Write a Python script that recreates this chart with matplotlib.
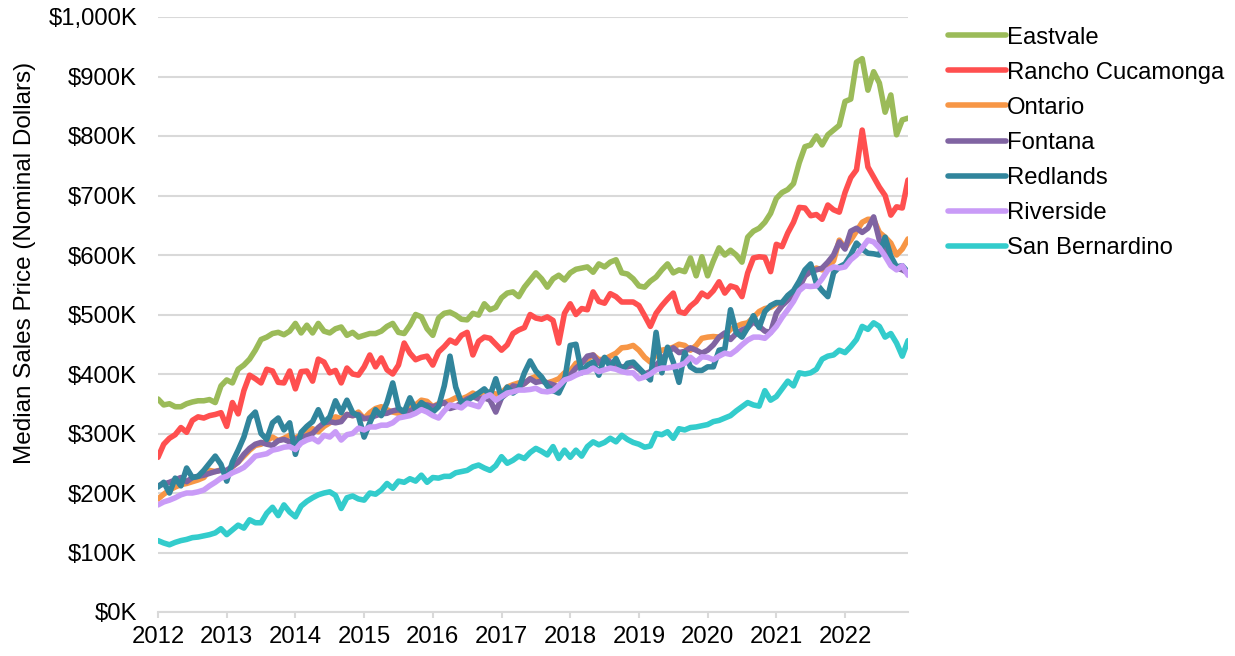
"""
Median sales price by city, Inland Empire, monthly 2012-2022.

Saves a line chart to out.png.
"""

import matplotlib

matplotlib.use("Agg")  # Non-interactive backend for PNG export.
import matplotlib.pyplot as plt
import numpy as np
from matplotlib.ticker import FuncFormatter

# Monthly median sales price, $K, Jan 2012 .. Dec 2022 (one row per year).
eastvale = [
    358, 348, 350, 345, 345, 350, 353, 355, 355, 357, 352, 380,
    390, 385, 408, 415, 425, 440, 458, 462, 468, 470, 466, 472,
    485, 469, 482, 469, 485, 472, 469, 476, 479, 465, 470, 462,
    465, 468, 468, 472, 480, 485, 470, 468, 482, 500, 496, 476,
    465, 494, 502, 504, 499, 492, 491, 502, 499, 518, 508, 512,
    528, 536, 538, 530, 546, 558, 570, 560, 546, 560, 566, 558,
    570, 576, 578, 580, 571, 585, 580, 588, 592, 570, 568, 560,
    548, 546, 556, 563, 575, 585, 570, 575, 572, 595, 565, 597,
    565, 590, 612, 600, 608, 600, 588, 630, 640, 645, 655, 670,
    695, 705, 710, 720, 755, 782, 785, 800, 785, 802, 810, 818,
    858, 862, 924, 930, 877, 908, 889, 840, 869, 802, 827, 830,
]
rancho_cucamonga = [
    260, 282, 292, 298, 310, 302, 322, 328, 326, 330, 332, 335,
    312, 352, 333, 372, 398, 392, 385, 408, 405, 386, 385, 405,
    375, 404, 405, 388, 425, 420, 402, 406, 385, 410, 400, 398,
    412, 432, 412, 427, 407, 400, 415, 452, 435, 424, 428, 430,
    415, 437, 446, 457, 452, 465, 470, 432, 455, 462, 460, 450,
    440, 449, 468, 474, 478, 500, 494, 492, 496, 490, 452, 502,
    518, 500, 510, 508, 538, 522, 519, 535, 530, 521, 521, 521,
    515, 498, 480, 502, 515, 526, 536, 505, 502, 514, 522, 536,
    530, 540, 555, 536, 548, 545, 530, 570, 595, 597, 596, 572,
    618, 614, 637, 655, 680, 679, 666, 668, 660, 684, 676, 672,
    705, 730, 743, 810, 748, 731, 714, 700, 667, 681, 679, 726,
]
ontario = [
    190, 198, 205, 210, 214, 216, 219, 222, 226, 238, 236, 239,
    235, 244, 252, 262, 272, 280, 282, 288, 294, 288, 292, 297,
    292, 298, 305, 308, 303, 312, 318, 328, 325, 332, 330, 336,
    325, 335, 342, 345, 340, 336, 334, 338, 345, 348, 356, 354,
    345, 350, 352, 355, 360, 358, 362, 368, 362, 368, 370, 366,
    368, 378, 382, 385, 384, 392, 396, 390, 385, 388, 392, 402,
    405, 418, 420, 425, 432, 424, 425, 430, 435, 444, 445, 448,
    440, 428, 420, 432, 440, 442, 445, 450, 448, 440, 448, 460,
    462, 463, 462, 465, 475, 480, 484, 486, 495, 505, 510, 512,
    518, 520, 530, 535, 548, 565, 574, 578, 575, 580, 590, 625,
    612, 625, 640, 655, 660, 660, 638, 630, 620, 600, 610, 627,
]
fontana = [
    212, 215, 218, 222, 226, 219, 226, 228, 230, 233, 236, 238,
    238, 245, 252, 265, 275, 282, 285, 282, 280, 288, 290, 286,
    290, 294, 296, 300, 310, 318, 320, 318, 320, 332, 330, 332,
    325, 326, 330, 333, 334, 338, 340, 336, 338, 343, 347, 348,
    345, 348, 352, 342, 345, 352, 358, 362, 358, 360, 356, 336,
    360, 368, 380, 378, 384, 392, 386, 388, 385, 382, 378, 392,
    398, 410, 418, 430, 432, 418, 427, 420, 415, 412, 412, 415,
    408, 400, 404, 415, 425, 436, 444, 436, 438, 444, 440, 435,
    440, 449, 462, 469, 458, 468, 474, 478, 488, 480, 472, 470,
    502, 515, 524, 530, 545, 565, 572, 575, 578, 588, 600, 622,
    610, 640, 645, 638, 645, 664, 625, 610, 595, 578, 575, 570,
]
redlands = [
    210, 218, 200, 225, 212, 242, 226, 228, 238, 250, 262, 248,
    220, 252, 272, 294, 326, 336, 300, 290, 318, 326, 306, 318,
    265, 302, 312, 320, 340, 318, 328, 355, 335, 356, 335, 330,
    294, 318, 340, 330, 352, 385, 343, 336, 360, 340, 352, 345,
    336, 345, 380, 430, 378, 352, 355, 362, 368, 375, 364, 392,
    360, 378, 368, 375, 402, 422, 405, 395, 380, 372, 368, 388,
    448, 450, 402, 415, 420, 398, 428, 412, 426, 405, 418, 420,
    410, 400, 390, 470, 402, 445, 420, 386, 436, 412, 406, 406,
    412, 412, 440, 442, 508, 470, 462, 478, 498, 478, 505, 515,
    520, 520, 532, 540, 556, 575, 585, 552, 540, 530, 570, 580,
    585, 600, 620, 610, 603, 602, 600, 630, 598, 580, 582, 571,
]
riverside = [
    180, 185, 188, 192, 197, 200, 200, 202, 205, 212, 218, 225,
    228, 234, 238, 243, 252, 262, 264, 266, 272, 274, 277, 278,
    273, 284, 289, 292, 286, 297, 294, 303, 289, 298, 300, 309,
    306, 311, 311, 314, 314, 318, 326, 328, 330, 334, 340, 336,
    330, 326, 338, 348, 346, 343, 351, 348, 345, 361, 365, 356,
    362, 368, 370, 373, 373, 374, 376, 371, 370, 372, 380, 390,
    393, 398, 402, 404, 410, 404, 407, 410, 408, 404, 402, 402,
    392, 395, 400, 407, 410, 410, 412, 414, 418, 428, 420, 429,
    428, 424, 430, 435, 433, 440, 449, 457, 462, 462, 460, 469,
    480, 495, 508, 522, 540, 548, 547, 548, 560, 575, 580, 578,
    580, 592, 600, 612, 625, 622, 612, 598, 582, 575, 582, 566,
]
san_bernardino = [
    120, 116, 113, 117, 120, 122, 125, 126, 128, 130, 133, 140,
    130, 138, 146, 141, 155, 150, 150, 166, 176, 162, 180, 168,
    160, 178, 186, 192, 197, 200, 202, 196, 174, 192, 195, 190,
    188, 200, 198, 205, 216, 208, 220, 218, 224, 220, 230, 218,
    226, 225, 228, 228, 234, 236, 238, 244, 247, 242, 238, 246,
    261, 250, 255, 262, 258, 268, 275, 270, 264, 278, 258, 272,
    260, 272, 262, 278, 286, 281, 285, 292, 286, 297, 290, 285,
    282, 277, 279, 300, 298, 303, 292, 308, 306, 310, 311, 313,
    315, 320, 322, 326, 330, 338, 345, 352, 348, 346, 372, 356,
    362, 375, 388, 380, 402, 400, 402, 408, 425, 430, 432, 440,
    436, 446, 458, 480, 475, 486, 480, 462, 468, 452, 430, 456,
]

cities = ["Eastvale", "Rancho Cucamonga", "Ontario", "Fontana",
          "Redlands", "Riverside", "San Bernardino"]
series = [eastvale, rancho_cucamonga, ontario, fontana,
          redlands, riverside, san_bernardino]
colors = ["#9BBB59", "#FF4F4F", "#F79646", "#8064A2",
          "#31859C", "#C99BF7", "#33CCCC"]

year_ticks = list(range(2012, 2023))
start_year = 2012

plt.rcParams["font.family"] = ["Liberation Sans", "DejaVu Sans"]
font_size = 17.2

months = np.arange(len(eastvale))
x = start_year + months / 12.0

fig = plt.figure(figsize=(12.35, 6.56), dpi=100)
ax = fig.add_axes([158 / 1235, 1 - 612 / 656, 750 / 1235, 595 / 656])

for name, values, color in zip(cities, series, colors):
    ax.plot(x, values, color=color, linewidth=4.0, label=name,
            solid_joinstyle="round", solid_capstyle="round")

grid_color = "#D9D9D9"
ax.set_xlim(x[0], x[-1])
ax.set_ylim(0, 1000)
ax.set_yticks(np.arange(0, 1001, 100))
ax.yaxis.set_major_formatter(FuncFormatter(lambda v, _: f"${v:,.0f}K"))
ax.set_xticks(year_ticks)
ax.set_xticklabels([str(y) for y in year_ticks])
ax.grid(axis="y", color=grid_color, linewidth=1.5)
ax.set_axisbelow(True)

for side in ["top", "right", "left"]:
    ax.spines[side].set_visible(False)
ax.spines["bottom"].set_color(grid_color)
ax.spines["bottom"].set_linewidth(1.5)

ax.tick_params(axis="y", length=0, pad=15, labelsize=font_size, colors="black")
ax.tick_params(axis="x", length=4, width=1.5, color=grid_color, pad=6,
               labelsize=font_size, labelcolor="black")

ax.set_ylabel("Median Sales Price (Nominal Dollars)", fontsize=17.5)
ax.yaxis.set_label_coords((36 - 158) / 750, (612 - 263) / 595)

fig.legend(
    loc="upper left",
    bbox_to_anchor=(938 / 1235, 1 - 17 / 656),
    frameon=False,
    fontsize=font_size,
    handlelength=2.45,
    handletextpad=0.05,
    labelspacing=0.55,
    borderaxespad=0,
)

fig.savefig("out.png", dpi=100)
plt.close(fig)
